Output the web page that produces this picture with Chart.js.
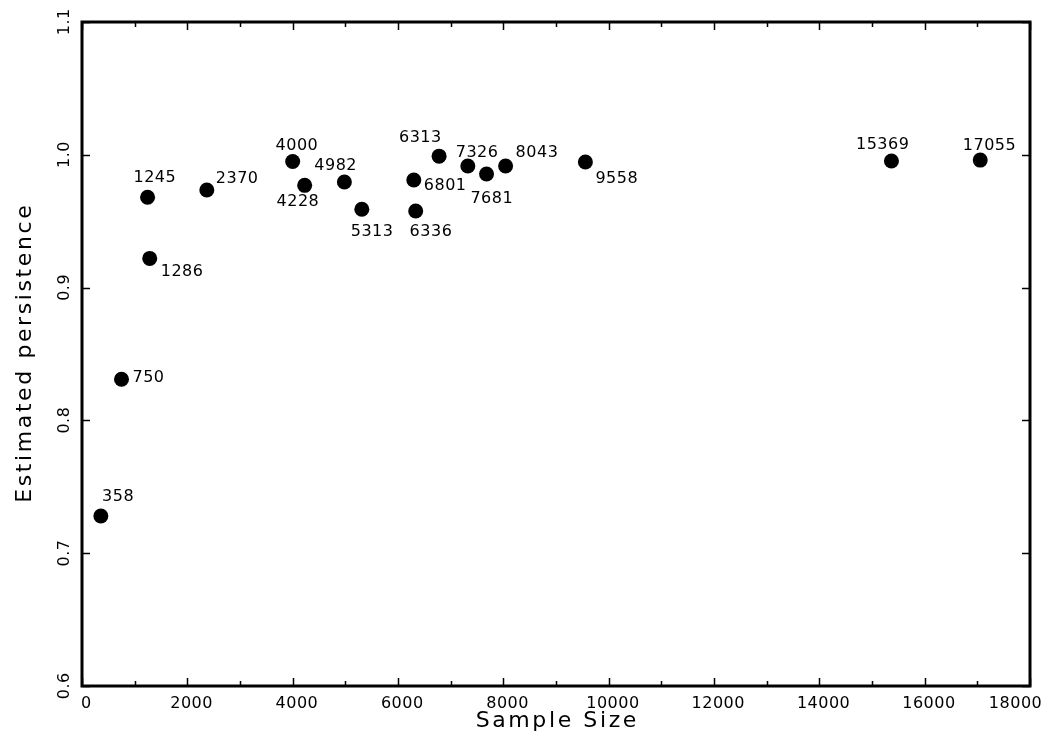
<!DOCTYPE html>
<html>
<head>
<meta charset="utf-8">
<script src="https://cdn.jsdelivr.net/npm/chart.js@4/dist/chart.umd.min.js"></script>
<style>
  html, body { margin: 0; padding: 0; background: #fff; }
  #chart { display: block; }
</style>
</head>
<body>
<canvas id="chart" width="1049" height="736"></canvas>
<script>
// Sample size (x) and estimated persistence (y)
const sampleSize = [358, 750, 1245, 1286, 2370, 4000, 4228, 4982, 5313, 6300, 6780, 6336, 7326, 7681, 8043, 9558, 15369, 17055];
const persistence = [0.728, 0.831, 0.968, 0.922, 0.9735, 0.995, 0.977, 0.9795, 0.959, 0.981, 0.999, 0.9577, 0.9916, 0.9855, 0.9916, 0.9946, 0.9953, 0.996];
const pointLabels = ['358', '750', '1245', '1286', '2370', '4000', '4228', '4982', '5313', '6801', '6313', '6336', '7326', '7681', '8043', '9558', '15369', '17055'];

const xTicks = [0, 2000, 4000, 6000, 8000, 10000, 12000, 14000, 16000, 18000];
const yTicks = [0.6, 0.7, 0.8, 0.9, 1.0, 1.1];

// where each label sits relative to its dot: [dx, dy, align]
const labelPlace = [
  [17, -21, 'center'], [11, -3, 'left'], [7, -21, 'center'], [11, 12, 'left'],
  [9, -13, 'left'], [4, -17, 'center'], [-7, 15, 'center'], [-9, -18, 'center'],
  [10, 21, 'center'], [10, 4, 'left'], [-19, -20, 'center'], [15, 19, 'center'],
  [9, -15, 'center'], [5, 23, 'center'], [10, -15, 'left'], [10, 15, 'left'],
  [-9, -18, 'center'], [9, -16, 'center']
];

const FONT = '"DejaVu Sans", sans-serif';

function drawText(ctx, text, x, y, opts) {
  const size = opts.size || 16;
  ctx.save();
  ctx.font = size + 'px ' + FONT;
  ctx.letterSpacing = (opts.spacing || 0) + 'px';
  ctx.fillStyle = '#000';
  ctx.textAlign = opts.align || 'center';
  ctx.textBaseline = 'alphabetic';
  if (opts.maxRight) {
    // keep the last tick label inside the canvas
    const half = ctx.measureText(text).width / 2;
    if (x + half > opts.maxRight) x = opts.maxRight - half;
  }
  ctx.translate(x, y);
  if (opts.rotate) ctx.rotate(opts.rotate);
  let dx = 0;
  if (ctx.textAlign === 'center') dx = (opts.spacing || 0) / 2;
  ctx.fillText(text, dx, size * 0.365);
  ctx.restore();
}

const framePlugin = {
  id: 'frame',
  afterDatasetsDraw(chart) {
    const ctx = chart.ctx;
    const { left, right, top, bottom } = chart.chartArea;
    const xs = chart.scales.x, ys = chart.scales.y;

    ctx.save();
    ctx.strokeStyle = '#000';
    // inward ticks on all four sides
    ctx.lineWidth = 1.5;
    ctx.beginPath();
    for (let v = xs.min; v <= xs.max; v += 1000) {
      const px = Math.round(xs.getPixelForValue(v)) + 0.5;
      const len = v % 2000 === 0 ? 8 : 5;
      ctx.moveTo(px, bottom); ctx.lineTo(px, bottom - len);
      ctx.moveTo(px, top); ctx.lineTo(px, top + len);
    }
    yTicks.forEach(v => {
      const py = Math.round(ys.getPixelForValue(v)) + 0.5;
      ctx.moveTo(left, py); ctx.lineTo(left + 8, py);
      ctx.moveTo(right, py); ctx.lineTo(right - 8, py);
    });
    ctx.stroke();

    ctx.lineWidth = 3;
    ctx.strokeRect(left, top, right - left, bottom - top);
    ctx.restore();

    // tick labels
    xTicks.forEach(v => {
      drawText(ctx, String(v), xs.getPixelForValue(v) + 4, bottom + 16, { spacing: 0.5, maxRight: chart.width - 7 });
    });
    yTicks.forEach(v => {
      drawText(ctx, v.toFixed(1), left - 19, ys.getPixelForValue(v), { spacing: 0.5, rotate: -Math.PI / 2 });
    });

    // axis titles
    drawText(ctx, 'Sample Size', (left + right) / 2, 719, { size: 22, spacing: 2.6 });
    drawText(ctx, 'Estimated persistence', 23, (top + bottom) / 2, { size: 22, spacing: 2.6, rotate: -Math.PI / 2 });

    // point labels
    const meta = chart.getDatasetMeta(0);
    meta.data.forEach((pt, i) => {
      const [dx, dy, align] = labelPlace[i];
      drawText(ctx, pointLabels[i], pt.x + dx, pt.y + dy, { spacing: 0.5, align });
    });
  }
};

const points = sampleSize.map((x, i) => ({ x, y: persistence[i] }));

new Chart(document.getElementById('chart'), {
  type: 'scatter',
  data: {
    datasets: [{
      data: points,
      backgroundColor: '#000',
      borderWidth: 0,
      pointRadius: 7.5,
      pointHoverRadius: 7.5
    }]
  },
  options: {
    responsive: false,
    animation: false,
    layout: { padding: { left: 82, right: 19, top: 22, bottom: 50 } },
    plugins: {
      legend: { display: false },
      tooltip: { enabled: false }
    },
    scales: {
      x: { type: 'linear', min: 0, max: 18000, display: false },
      y: { type: 'linear', min: 0.6, max: 1.1, display: false }
    }
  },
  plugins: [framePlugin]
});
</script>
</body>
</html>
